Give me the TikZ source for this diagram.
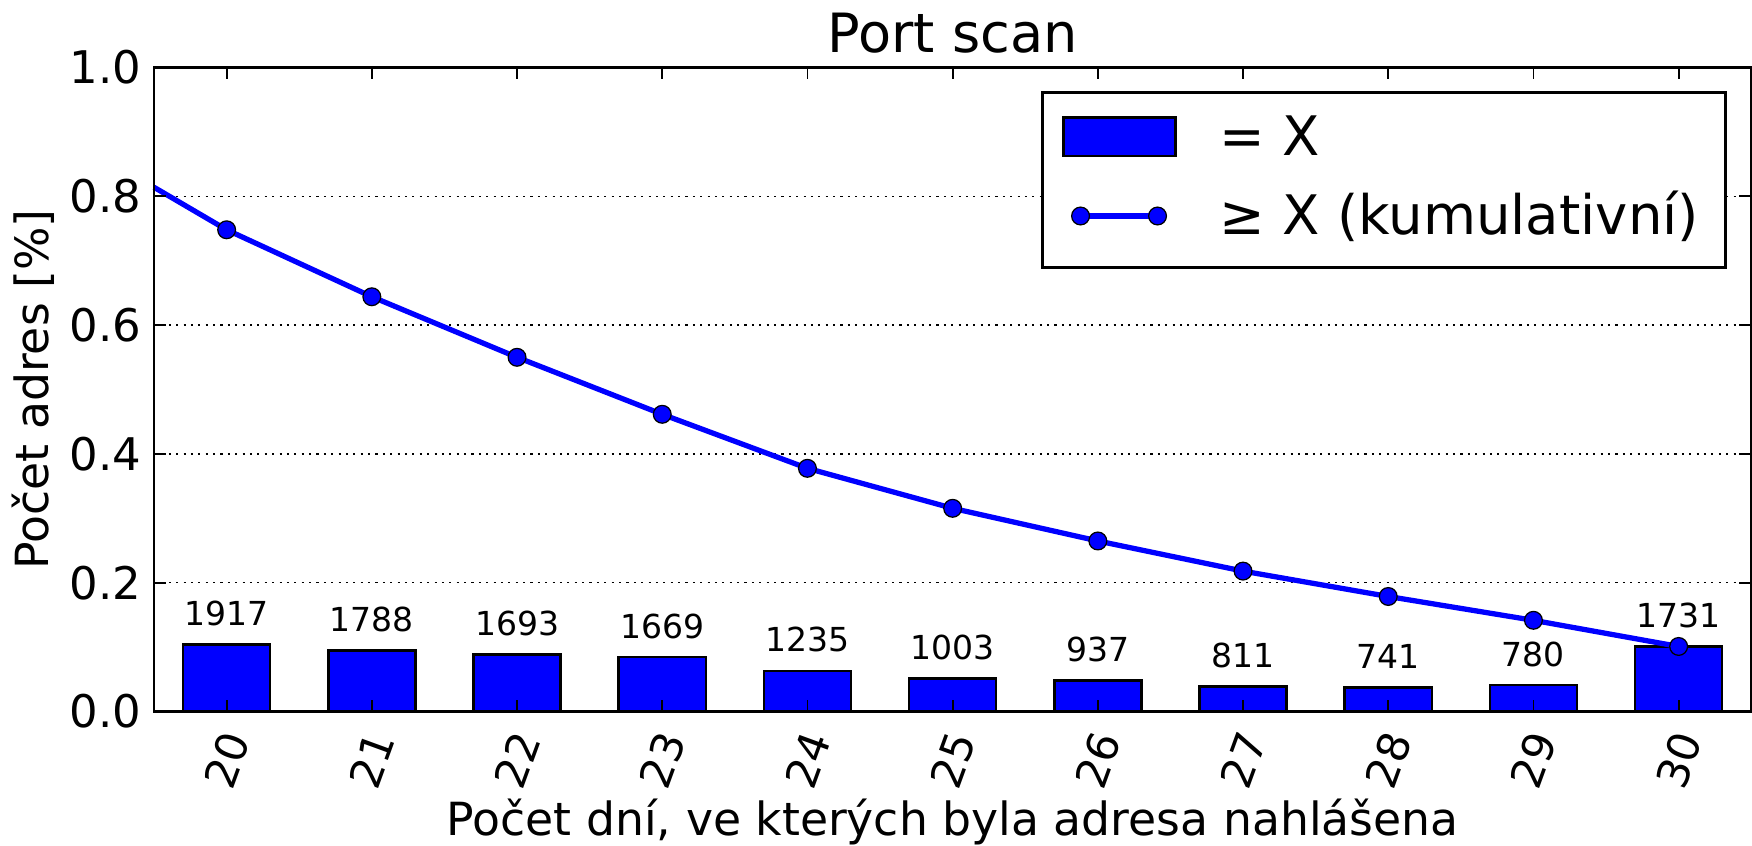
\documentclass[tikz,border=0pt]{standalone}
\usepackage{fontspec}
\setmainfont{DejaVu Sans}
\usepackage{tikz}
\usepackage{xcolor}

\begin{document}
\begin{tikzpicture}[x=1.452cm, y=6.44cm,
    bar/.style={draw=black, line width=0.7pt, fill=blue},
    cumline/.style={draw=blue, line width=1.5pt},
    dotmark/.style={draw=black, line width=0.35pt, fill=blue, shape=circle,
        inner sep=0, minimum size=0.178cm},
    gridline/.style={line width=0.4pt, dash pattern=on 0.6pt off 1.5pt},
    spine/.style={line width=0.8pt},
    tickline/.style={line width=0.5pt},
    valuelabel/.style={anchor=base, inner sep=0, yshift=0.19cm,
        font=\fontsize{9.4pt}{11pt}\selectfont},
    xticklabel/.style={inner sep=0, rotate=70, font=\fontsize{12.3pt}{15pt}\selectfont},
    yticklabel/.style={inner sep=0, anchor=east, xshift=-0.12cm,
        font=\fontsize{12.8pt}{15pt}\selectfont},
    axislabel/.style={inner sep=0, font=\fontsize{13pt}{16pt}\selectfont},
    legendtext/.style={anchor=base west, inner sep=0, font=\fontsize{15.5pt}{18pt}\selectfont}]

    \useasboundingbox (18.4394,-0.20885) rectangle (30.5055,1.10481);

    % Grid
    \foreach \g in {0.2,0.4,0.6,0.8}
        \draw[gridline] (19.5,\g) -- (30.5,\g);

    % Bars (= X)
    \draw[bar] (19.7,0) rectangle (20.3,0.104);
    \node[valuelabel] (v20) at (20,0.104) {1917};
    \draw[bar] (20.7,0) rectangle (21.3,0.095);
    \node[valuelabel] (v21) at (21,0.095) {1788};
    \draw[bar] (21.7,0) rectangle (22.3,0.0885);
    \node[valuelabel] (v22) at (22,0.0885) {1693};
    \draw[bar] (22.7,0) rectangle (23.3,0.0845);
    \node[valuelabel] (v23) at (23,0.0845) {1669};
    \draw[bar] (23.7,0) rectangle (24.3,0.063);
    \node[valuelabel] (v24) at (24,0.063) {1235};
    \draw[bar] (24.7,0) rectangle (25.3,0.051);
    \node[valuelabel] (v25) at (25,0.051) {1003};
    \draw[bar] (25.7,0) rectangle (26.3,0.048);
    \node[valuelabel] (v26) at (26,0.048) {937};
    \draw[bar] (26.7,0) rectangle (27.3,0.039);
    \node[valuelabel] (v27) at (27,0.039) {811};
    \draw[bar] (27.7,0) rectangle (28.3,0.0375);
    \node[valuelabel] (v28) at (28,0.0375) {741};
    \draw[bar] (28.7,0) rectangle (29.3,0.041);
    \node[valuelabel] (v29) at (29,0.041) {780};
    \draw[bar] (29.7,0) rectangle (30.3,0.101);
    \node[valuelabel] (v30) at (30,0.101) {1731};

    % Cumulative (>= X)
    \coordinate (c19) at (19.5,0.814);
    \coordinate (c20) at (20,0.748);
    \coordinate (c21) at (21,0.644);
    \coordinate (c22) at (22,0.550);
    \coordinate (c23) at (23,0.4615);
    \coordinate (c24) at (24,0.3776);
    \coordinate (c25) at (25,0.3155);
    \coordinate (c26) at (26,0.2648);
    \coordinate (c27) at (27,0.218);
    \coordinate (c28) at (28,0.1786);
    \coordinate (c29) at (29,0.1416);
    \coordinate (c30) at (30,0.101);
    \draw[cumline] (c19) -- (c20) -- (c21) -- (c22) -- (c23) -- (c24) -- (c25)
        -- (c26) -- (c27) -- (c28) -- (c29) -- (c30);
    \foreach \i in {20,...,30}
        \node[dotmark] (m\i) at (c\i) {};

    % Axes
    \draw[spine] (19.5,0) rectangle (30.5,1);
    \foreach \i in {20,...,30} {
        \draw[tickline] (\i,0) -- (\i,0.0186);
        \draw[tickline] (\i,1) -- (\i,0.9814);
        \node[xticklabel] (t\i) at (\i,-0.0753) {\i};
    }
    \foreach \g [count=\k] in {0.0,0.2,0.4,0.6,0.8,1.0} {
        \draw[tickline] (19.5,\g) -- (19.5826,\g);
        \draw[tickline] (30.5,\g) -- (30.4174,\g);
        \node[yticklabel] (y\k) at (19.5,\g) {\g};
    }

    % Legend
    \draw[line width=0.85pt, fill=white] (25.6157,0.6887) rectangle (30.3196,0.9604);
    \draw[bar] (25.7624,0.8626) rectangle (26.5337,0.9220);
    \node[legendtext] (eqx) at (26.836,0.8626) {= X};
    \coordinate (la) at (25.881,0.7694);
    \coordinate (lb) at (26.4112,0.7694);
    \draw[cumline] (la) -- (lb);
    \node[dotmark] (ma) at (la) {};
    \node[dotmark] (mb) at (lb) {};
    \node[legendtext] (gex) at (26.836,0.7399) {≥ X (kumulativní)};

    % Labels
    \node[anchor=base, inner sep=0, font=\fontsize{15.4pt}{18pt}\selectfont]
        (title) at (25,1.0233) {Port scan};
    \node[axislabel, anchor=base] (xlab) at (25,-0.1933)
        {Počet dní, ve kterých byla adresa nahlášena};
    \node[axislabel, rotate=90] (ylab) at (18.667,0.5) {Počet adres [\%]};

\end{tikzpicture}
\end{document}
